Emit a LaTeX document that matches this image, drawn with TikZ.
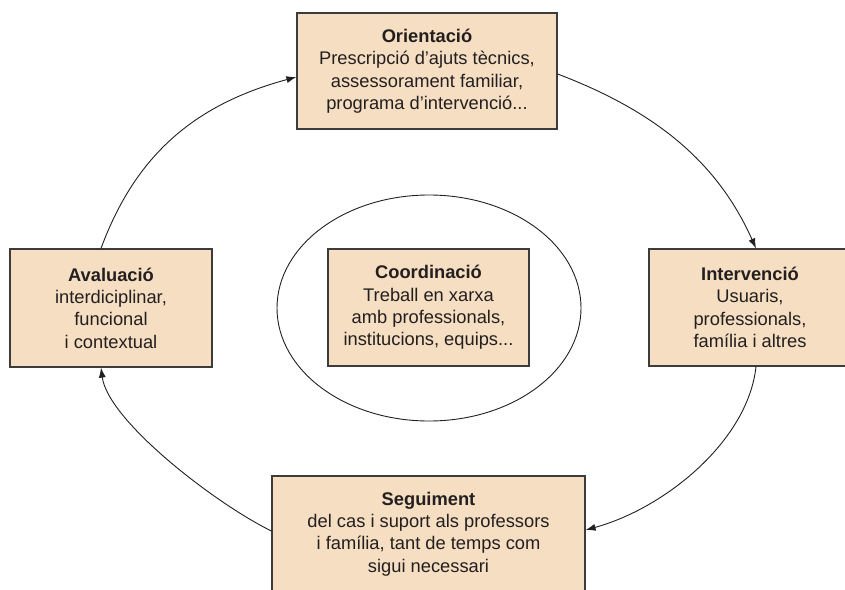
\documentclass[tikz,border=0pt]{standalone}
\usepackage{fontspec}
\setmainfont{Liberation Sans}
\usetikzlibrary{arrows.meta}
\definecolor{boxfill}{HTML}{F5DEC1}
\definecolor{boxline}{HTML}{3C3C3C}
\definecolor{ink}{HTML}{231F20}
\begin{document}
\begin{tikzpicture}[x=1pt,y=-1pt,
  box/.style={draw=boxline, line width=1.2pt, fill=boxfill, align=center,
    text=ink, inner sep=0pt, font=\fontsize{18.3}{22.4}\selectfont},
  conn/.style={draw=ink, line width=0.9pt, -{Latex[length=10pt,width=7pt]}}]
\useasboundingbox (0,0) rectangle (845,589);
\begin{scope}
\clip (0,0) rectangle (845,589);
\draw[ink, line width=0.9pt] (429,308) ellipse [x radius=152, y radius=113];
\node[box, minimum width=260, minimum height=116] (O) at (427,71)
  {\textbf{Orientació}\\Prescripció d’ajuts tècnics,\\assessorament familiar,\\programa d’intervenció...};
\node[box, minimum width=202, minimum height=117] (I) at (750,307.5)
  {\textbf{Intervenció}\\Usuaris,\\professionals,\\família i altres};
\node[box, minimum width=313, minimum height=116] (S) at (428.5,534)
  {\textbf{Seguiment}\\del cas i suport als professors\\ i família, tant de temps com\\sigui necessari};
\node[box, minimum width=202, minimum height=118] (A) at (111,308)
  {\textbf{Avaluació}\\interdiciplinar,\\funcional\\i contextual};
\node[box, minimum width=201, minimum height=117] (C) at (428.5,307.5)
  {\textbf{Coordinació}\\Treball en xarxa\\amb professionals,\\institucions, equips...};
\draw[conn] ([xshift=-10pt]A.north) .. controls +(35,-95) and +(-100,27) .. ([yshift=-6pt]O.west);
\draw[conn] ([yshift=-3pt]O.east) .. controls +(100,38) and +(-38,-85) .. ([xshift=6pt]I.north);
\draw[conn] ([xshift=6pt]I.south) .. controls +(-8,74) and +(80,-22) .. ([yshift=4pt]S.east);
\draw[conn] ([yshift=3pt]S.west) .. controls +(-57,-28) and +(7,53) .. ([xshift=-10pt]A.south);
\end{scope}
\end{tikzpicture}
\end{document}
